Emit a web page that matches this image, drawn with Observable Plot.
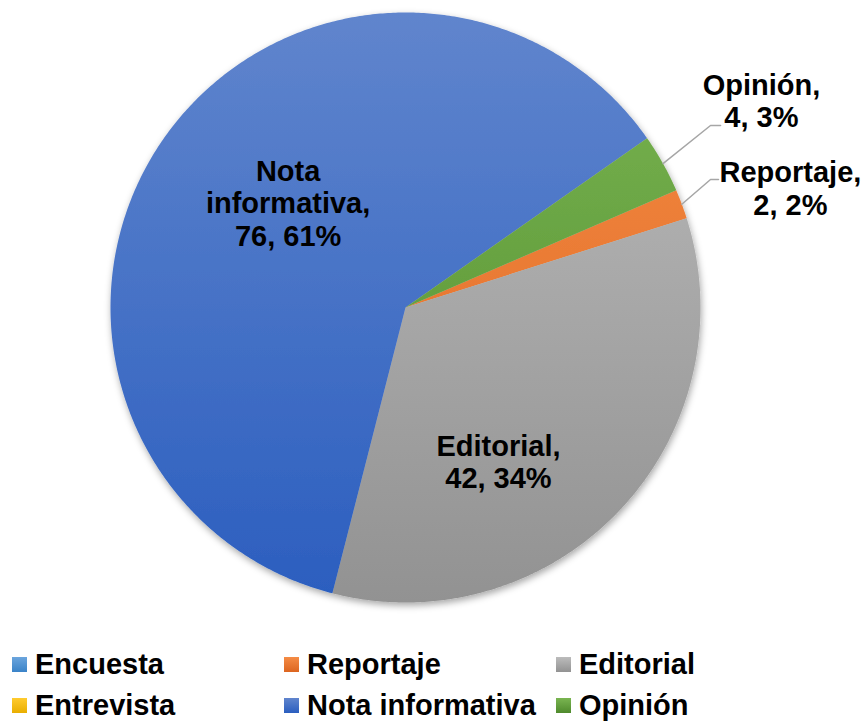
<!DOCTYPE html>
<html><head><meta charset="utf-8">
<script src="https://cdn.jsdelivr.net/npm/d3@7"></script>
<script src="https://cdn.jsdelivr.net/npm/@observablehq/plot@0.6"></script>
<style>
body{margin:0;background:#fff;font-family:"Liberation Sans",Arial,sans-serif;}
#wrap{position:relative;width:863px;height:723px;overflow:hidden}
#chart svg{display:block}
.leg{position:absolute;display:flex;align-items:center;font-weight:bold;font-size:29px;line-height:29px;color:#000;white-space:nowrap}
.sw{width:15px;height:15px;margin-right:8px;flex:none}
</style></head><body><div id="wrap"><div id="chart"></div><div id="legend"></div></div>
<script>
// ---- data ----
const categories = ["Encuesta", "Reportaje", "Editorial", "Entrevista", "Nota informativa", "Opinión"];
const values = [0, 2, 42, 0, 76, 4];

// ---- style / layout (not data) ----
const gradTop    = ["#6ba5dd", "#f58c45", "#bcbcbc", "#ffcb2f", "#6085cd", "#7ab551"];
const gradBottom = ["#3a83c8", "#dc6520", "#929292", "#e9ae00", "#2b5ebf", "#4f8a2d"];
const firstSliceAngle = 66.6; // degrees, clockwise from 12 o'clock
const labelLayout = {
  "Nota informativa": {a: 311.7, r: 0.533},
  "Editorial": {a: 148.9, r: 0.61},
  "Opinión": {a: 59.8, r: 1.396, elbow: [1.034, 0.617], end: [1.068, 0.617]},
  "Reportaje": {a: 72.8, r: 1.366, elbow: [1.034, 0.434], end: [1.061, 0.434]}
};

const total = d3.sum(values);
const rad = d => d * Math.PI / 180;
let acc = firstSliceAngle;
const slices = categories.map((name, i) => {
  const a0 = acc, a1 = acc + values[i] / total * 360; acc = a1;
  return {name, value: values[i], a0, a1, mid: (a0 + a1) / 2, pct: Math.round(values[i] / total * 100)};
});

const pts = slices.filter(s => s.value > 0).flatMap(s => {
  const n = Math.max(2, Math.ceil((s.a1 - s.a0) / 0.5));
  const arr = [{name: s.name, x: 0, y: 0}];
  for (let k = 0; k <= n; k++) {
    const a = rad(s.a0 + (s.a1 - s.a0) * k / n);
    arr.push({name: s.name, x: Math.sin(a), y: Math.cos(a)});
  }
  arr.push({name: s.name, x: 0, y: 0});
  return arr;
});

const labels = slices.filter(s => s.value > 0 && labelLayout[s.name]).map(s => {
  const L = labelLayout[s.name];
  const nm = s.name.includes(" ") ? s.name.split(" ").join("\n") : s.name;
  return {name: s.name, x: L.r * Math.sin(rad(L.a)), y: L.r * Math.cos(rad(L.a)),
          text: `${nm},\n${s.value}, ${s.pct}%`};
});

const leaders = slices.filter(s => s.value > 0 && labelLayout[s.name] && labelLayout[s.name].elbow).flatMap(s => {
  const L = labelLayout[s.name];
  return [
    {name: s.name, x: Math.sin(rad(s.mid)), y: Math.cos(rad(s.mid))},
    {name: s.name, x: L.elbow[0], y: L.elbow[1]},
    {name: s.name, x: L.end[0], y: L.end[1]}
  ];
});

const plot = Plot.plot({
  width: 863, height: 640,
  marginLeft: 110, marginRight: 163, marginTop: 12, marginBottom: 38,
  x: {domain: [-1, 1], axis: null},
  y: {domain: [-1, 1], axis: null},
  color: {type: "ordinal", domain: categories, range: categories.map((c, i) => `url(#grad${i})`)},
  style: {background: "transparent", overflow: "visible"},
  marks: [
    Plot.line(pts, {x: "x", y: "y", z: "name", fill: "name", stroke: "none", curve: "linear"}),
    Plot.line(leaders, {x: "x", y: "y", z: "name", stroke: "#a6a6a6", strokeWidth: 1.5}),
    Plot.text(labels, {x: "x", y: "y", text: "text", fontSize: 29, fontWeight: "bold",
      fontFamily: "Liberation Sans, Arial, sans-serif", lineHeight: 1.12, fill: "#000"})
  ]
});

const ys = plot.scale("y");
const yTop = ys.apply(1), yBot = ys.apply(-1);
const svg = d3.select(plot);
const defs = svg.insert("defs", ":first-child");
categories.forEach((c, i) => {
  const g = defs.append("linearGradient").attr("id", `grad${i}`)
    .attr("gradientUnits", "userSpaceOnUse")
    .attr("x1", 0).attr("x2", 0).attr("y1", yTop).attr("y2", yBot);
  g.append("stop").attr("offset", 0).attr("stop-color", gradTop[i]);
  g.append("stop").attr("offset", 1).attr("stop-color", gradBottom[i]);
});
const f = defs.append("filter").attr("id", "shadow")
  .attr("x", "-10%").attr("y", "-10%").attr("width", "120%").attr("height", "120%");
f.append("feDropShadow").attr("dx", 1).attr("dy", 3).attr("stdDeviation", 3.5)
  .attr("flood-color", "#000").attr("flood-opacity", 0.35);
svg.select('g[aria-label="line"]').attr("filter", "url(#shadow)");

document.getElementById("chart").appendChild(plot);

// legend
const legCols = [12, 284, 556], legRows = [650, 691];
const leg = d3.select("#legend");
categories.forEach((c, i) => {
  const item = leg.append("div").attr("class", "leg")
    .style("left", legCols[i % 3] + "px").style("top", legRows[Math.floor(i / 3)] + "px");
  item.append("div").attr("class", "sw")
    .style("background", `linear-gradient(${gradTop[i]}, ${gradBottom[i]})`);
  item.append("span").text(c);
});
</script></body></html>
